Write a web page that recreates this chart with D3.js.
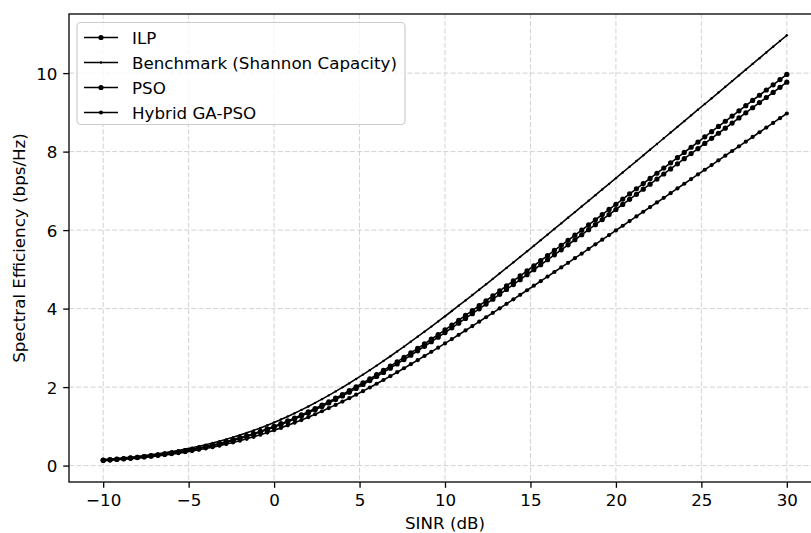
<!DOCTYPE html>
<html>
<head>
<meta charset="utf-8">
<script src="https://cdn.jsdelivr.net/npm/d3@7"></script>
<style>
  body { margin: 0; background: #fff; }
  text { font-family: "DejaVu Sans", sans-serif; fill: #000; }
</style>
</head>
<body>
<script>
var width = 811,
    height = 533,
    fontSize = 16.7;

// SINR sample points (dB)
var sinr = [-10, -9.6, -9.2, -8.8, -8.4, -8, -7.6, -7.2, -6.8, -6.4, -6, -5.6, -5.2, -4.8, -4.4, -4, -3.6, -3.2, -2.8, -2.4,
    -2, -1.6, -1.2, -0.8, -0.4, 0, 0.4, 0.8, 1.2, 1.6, 2, 2.4, 2.8, 3.2, 3.6, 4, 4.4, 4.8, 5.2, 5.6,
    6, 6.4, 6.8, 7.2, 7.6, 8, 8.4, 8.8, 9.2, 9.6, 10, 10.4, 10.8, 11.2, 11.6, 12, 12.4, 12.8, 13.2, 13.6,
    14, 14.4, 14.8, 15.2, 15.6, 16, 16.4, 16.8, 17.2, 17.6, 18, 18.4, 18.8, 19.2, 19.6, 20, 20.4, 20.8, 21.2, 21.6,
    22, 22.4, 22.8, 23.2, 23.6, 24, 24.4, 24.8, 25.2, 25.6, 26, 26.4, 26.8, 27.2, 27.6, 28, 28.4, 28.8, 29.2, 29.6, 30];

var ilp = [0.138, 0.150, 0.164, 0.179, 0.195, 0.212, 0.231, 0.252, 0.274, 0.298, 0.323, 0.351, 0.381, 0.413, 0.447, 0.483, 0.523, 0.564, 0.609, 0.656,
    0.706, 0.759, 0.814, 0.873, 0.935, 1.000, 1.068, 1.139, 1.213, 1.290, 1.370, 1.453, 1.539, 1.627, 1.718, 1.812, 1.909, 2.007, 2.108, 2.211,
    2.316, 2.424, 2.533, 2.643, 2.756, 2.870, 2.985, 3.102, 3.220, 3.339, 3.459, 3.581, 3.703, 3.826, 3.950, 4.075, 4.200, 4.326, 4.452, 4.579,
    4.707, 4.835, 4.963, 5.092, 5.221, 5.351, 5.481, 5.611, 5.741, 5.871, 6.002, 6.133, 6.264, 6.395, 6.527, 6.658, 6.790, 6.922, 7.053, 7.185,
    7.317, 7.449, 7.582, 7.714, 7.846, 7.978, 8.111, 8.243, 8.376, 8.508, 8.641, 8.773, 8.906, 9.038, 9.171, 9.304, 9.436, 9.569, 9.702, 9.834, 9.967];

var benchmark = [0.151, 0.165, 0.180, 0.197, 0.214, 0.233, 0.254, 0.277, 0.301, 0.327, 0.356, 0.386, 0.419, 0.454, 0.492, 0.532, 0.575, 0.621, 0.669, 0.721,
    0.776, 0.834, 0.896, 0.961, 1.029, 1.100, 1.175, 1.253, 1.334, 1.419, 1.507, 1.598, 1.693, 1.790, 1.890, 1.993, 2.099, 2.208, 2.319, 2.432,
    2.548, 2.666, 2.786, 2.908, 3.031, 3.157, 3.284, 3.412, 3.542, 3.673, 3.805, 3.939, 4.073, 4.209, 4.345, 4.482, 4.620, 4.758, 4.898, 5.037,
    5.178, 5.319, 5.460, 5.601, 5.744, 5.886, 6.029, 6.172, 6.315, 6.459, 6.602, 6.746, 6.891, 7.035, 7.179, 7.324, 7.469, 7.614, 7.759, 7.904,
    8.049, 8.194, 8.340, 8.485, 8.631, 8.776, 8.922, 9.067, 9.213, 9.359, 9.505, 9.651, 9.796, 9.942, 10.088, 10.234, 10.380, 10.526, 10.672, 10.818, 10.964];

var pso = [0.135, 0.147, 0.161, 0.175, 0.191, 0.208, 0.227, 0.247, 0.268, 0.292, 0.317, 0.344, 0.373, 0.404, 0.438, 0.474, 0.512, 0.553, 0.596, 0.643,
    0.692, 0.743, 0.798, 0.856, 0.916, 0.980, 1.047, 1.116, 1.189, 1.264, 1.343, 1.424, 1.508, 1.595, 1.684, 1.776, 1.870, 1.967, 2.066, 2.167,
    2.270, 2.375, 2.482, 2.591, 2.701, 2.812, 2.925, 3.040, 3.156, 3.272, 3.390, 3.509, 3.629, 3.750, 3.871, 3.993, 4.116, 4.239, 4.363, 4.488,
    4.613, 4.738, 4.864, 4.990, 5.117, 5.244, 5.371, 5.498, 5.626, 5.754, 5.882, 6.010, 6.139, 6.267, 6.396, 6.525, 6.654, 6.783, 6.912, 7.042,
    7.171, 7.300, 7.430, 7.559, 7.689, 7.819, 7.949, 8.078, 8.208, 8.338, 8.468, 8.598, 8.728, 8.858, 8.988, 9.118, 9.248, 9.378, 9.508, 9.638, 9.768];

var hybrid = [0.124, 0.135, 0.147, 0.161, 0.175, 0.191, 0.208, 0.226, 0.246, 0.268, 0.291, 0.316, 0.343, 0.371, 0.402, 0.435, 0.470, 0.508, 0.548, 0.590,
    0.635, 0.683, 0.733, 0.786, 0.842, 0.900, 0.961, 1.025, 1.092, 1.161, 1.233, 1.308, 1.385, 1.465, 1.547, 1.631, 1.718, 1.806, 1.897, 1.990,
    2.085, 2.181, 2.279, 2.379, 2.480, 2.583, 2.687, 2.792, 2.898, 3.005, 3.113, 3.223, 3.333, 3.443, 3.555, 3.667, 3.780, 3.893, 4.007, 4.122,
    4.236, 4.352, 4.467, 4.583, 4.699, 4.816, 4.933, 5.050, 5.167, 5.284, 5.402, 5.520, 5.638, 5.756, 5.874, 5.992, 6.111, 6.229, 6.348, 6.467,
    6.586, 6.704, 6.823, 6.942, 7.061, 7.181, 7.300, 7.419, 7.538, 7.657, 7.777, 7.896, 8.015, 8.135, 8.254, 8.373, 8.493, 8.612, 8.732, 8.851, 8.971];

var xTicks = [-10, -5, 0, 5, 10, 15, 20, 25, 30],
    yTicks = [0, 2, 4, 6, 8, 10];

var series = [
    { name: 'ILP', values: ilp, r: 2.6 },
    { name: 'Benchmark (Shannon Capacity)', values: benchmark, r: 1.2 },
    { name: 'PSO', values: pso, r: 2.6 },
    { name: 'Hybrid GA-PSO', values: hybrid, r: 2.1 }
];

// axes box (right edge runs past the picture, as in the original)
var axLeft = 69, axTop = 14, axRight = 821, axBottom = 482;

var svg = d3.select('body').append('svg')
    .attr('width', width)
    .attr('height', height);

var xPad = (d3.max(sinr) - d3.min(sinr)) * 0.05;
var x = d3.scaleLinear()
    .domain([d3.min(sinr) - xPad, d3.max(sinr) + xPad])
    .range([axLeft, axRight]);

var allY = ilp.concat(benchmark, pso, hybrid);
var yPad = (d3.max(allY) - d3.min(allY)) * 0.05;
var y = d3.scaleLinear()
    .domain([d3.min(allY) - yPad, d3.max(allY) + yPad])
    .range([axBottom, axTop]);

// grid
var grid = svg.append('g')
    .attr('stroke', '#d2d2d2')
    .attr('stroke-width', 1)
    .attr('stroke-dasharray', '5,2.2');
grid.selectAll('.gx').data(xTicks).enter().append('line')
    .attr('x1', d => x(d)).attr('x2', d => x(d))
    .attr('y1', axTop).attr('y2', axBottom);
grid.selectAll('.gy').data(yTicks).enter().append('line')
    .attr('x1', axLeft).attr('x2', axRight)
    .attr('y1', d => y(d)).attr('y2', d => y(d));

var line = d3.line()
    .x(d => x(d[0]))
    .y(d => y(d[1]));

series.forEach(function (s) {
    var pts = sinr.map(function (v, i) { return [v, s.values[i]]; });
    var g = svg.append('g');
    g.append('path')
        .datum(pts)
        .attr('d', line)
        .attr('fill', 'none')
        .attr('stroke', '#000')
        .attr('stroke-width', 1.6);
    g.selectAll('circle')
        .data(pts)
        .enter()
        .append('circle')
        .attr('cx', d => x(d[0]))
        .attr('cy', d => y(d[1]))
        .attr('r', s.r)
        .attr('fill', '#000');
});

// axes frame
svg.append('rect')
    .attr('x', axLeft).attr('y', axTop)
    .attr('width', axRight - axLeft).attr('height', axBottom - axTop)
    .attr('fill', 'none')
    .attr('stroke', '#000')
    .attr('stroke-width', 1.3);

var xAxis = svg.append('g')
    .attr('transform', 'translate(0,' + axBottom + ')')
    .call(d3.axisBottom(x).tickValues(xTicks).tickSize(5.8).tickPadding(5.8)
        .tickFormat(d => d < 0 ? '\u2212' + Math.abs(d) : d));
var yAxis = svg.append('g')
    .attr('transform', 'translate(' + axLeft + ',0)')
    .call(d3.axisLeft(y).tickValues(yTicks).tickSize(5.8).tickPadding(5.8));

[xAxis, yAxis].forEach(function (a) {
    a.select('.domain').remove();
    a.selectAll('line').attr('stroke', '#000').attr('stroke-width', 1.3);
    a.selectAll('text')
        .attr('font-family', '"DejaVu Sans", sans-serif')
        .attr('font-size', fontSize)
        .attr('fill', '#000');
});
xAxis.selectAll('text').attr('dy', '0.76em');
yAxis.selectAll('text').attr('dy', '0.36em');

svg.append('text')
    .attr('x', (axLeft + axRight) / 2)
    .attr('y', 529)
    .attr('text-anchor', 'middle')
    .attr('font-size', fontSize)
    .text('SINR (dB)');

svg.append('text')
    .attr('transform', 'translate(24.5,' + ((axTop + axBottom) / 2) + ') rotate(-90)')
    .attr('text-anchor', 'middle')
    .attr('font-size', fontSize)
    .text('Spectral Efficiency (bps/Hz)');

// legend
var legend = svg.append('g');
legend.append('rect')
    .attr('x', 77).attr('y', 22.5)
    .attr('width', 328).attr('height', 102)
    .attr('rx', 4)
    .attr('fill', '#fff').attr('fill-opacity', 0.8)
    .attr('stroke', '#cccccc').attr('stroke-width', 1.2);

var rows = legend.selectAll('.row')
    .data(series)
    .enter()
    .append('g')
    .attr('transform', (d, i) => 'translate(0,' + (37.5 + i * 25) + ')');
rows.append('line')
    .attr('x1', 84).attr('x2', 118)
    .attr('stroke', '#000').attr('stroke-width', 1.6);
rows.append('circle')
    .attr('cx', 101).attr('r', d => d.r)
    .attr('fill', '#000');
rows.append('text')
    .attr('x', 132)
    .attr('dy', '0.36em')
    .attr('font-size', fontSize)
    .text(d => d.name);
</script>
</body>
</html>
